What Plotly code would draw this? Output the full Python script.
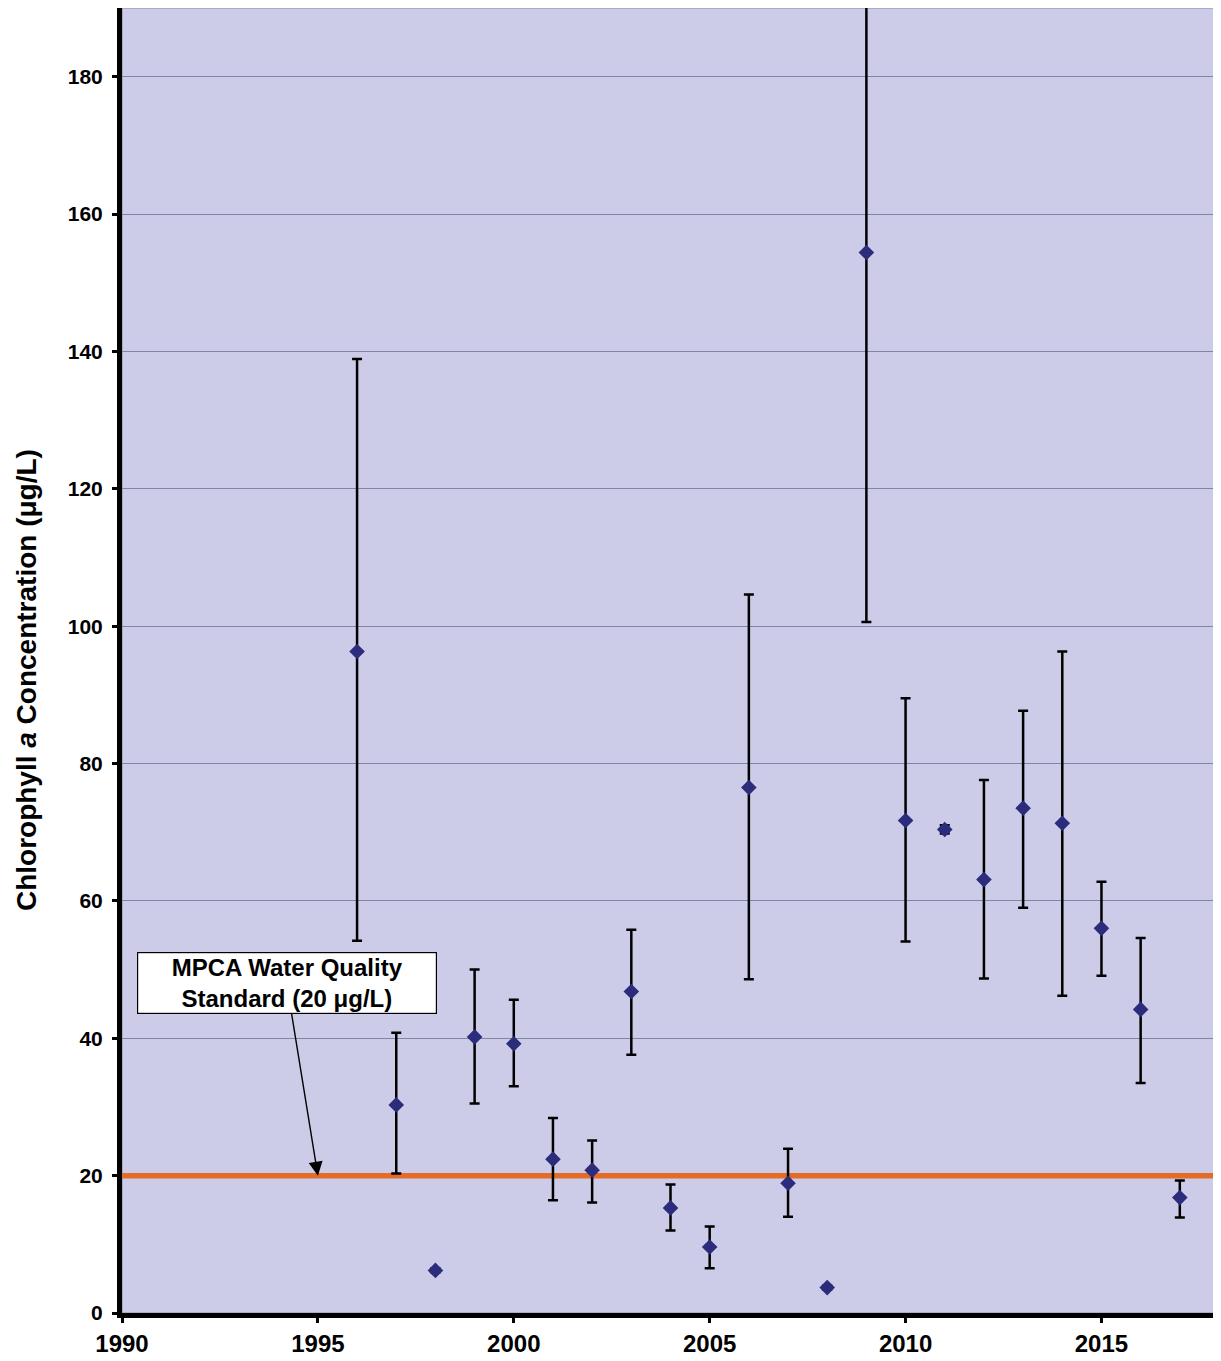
import plotly.graph_objects as go

# ---- data ----
years = [1996, 1997, 1998, 1999, 2000, 2001, 2002, 2003, 2004, 2005, 2006,
         2007, 2008, 2009, 2010, 2011, 2012, 2013, 2014, 2015, 2016, 2017]
chl_mean = [96.3, 30.3, 6.2, 40.2, 39.2, 22.4, 20.8, 46.8, 15.3, 9.6, 76.5,
            18.9, 3.7, 154.4, 71.7, 70.4, 63.1, 73.5, 71.3, 56.0, 44.2, 16.8]
chl_upper = [138.9, 40.8, 6.5, 50.0, 45.6, 28.4, 25.1, 55.8, 18.7, 12.6, 104.6,
             23.9, 4.0, 208.2, 89.5, 71.0, 77.6, 87.7, 96.3, 62.8, 54.6, 19.3]
chl_lower = [54.2, 20.3, 5.9, 30.5, 33.0, 16.4, 16.1, 37.6, 12.0, 6.5, 48.6,
             14.0, 3.4, 100.6, 54.1, 69.8, 48.7, 59.0, 46.2, 49.1, 33.5, 13.9]
standard_value = 20
x_range = [1990, 2018]
y_range = [0, 190]
x_ticks = [1990, 1995, 2000, 2005, 2010, 2015]
y_ticks = [0, 20, 40, 60, 80, 100, 120, 140, 160, 180]

err_plus = [u - m for u, m in zip(chl_upper, chl_mean)]
err_minus = [m - l for m, l in zip(chl_mean, chl_lower)]

fig = go.Figure()

# standard line
fig.add_trace(go.Scatter(
    x=x_range, y=[standard_value, standard_value], mode="lines",
    line=dict(color="#E46C26", width=5.5), hoverinfo="skip", showlegend=False,
))

fig.add_trace(go.Scatter(
    x=years, y=chl_mean, mode="markers",
    marker=dict(symbol="diamond", size=12, color="#2B2C7C"),
    error_y=dict(type="data", symmetric=False, array=err_plus, arrayminus=err_minus,
                 color="black", thickness=2.5, width=5),
    showlegend=False,
))

font_family = "Liberation Sans, Arial, sans-serif"

fig.update_layout(
    width=1213, height=1353,
    margin=dict(l=114, r=2, t=0, b=48),
    paper_bgcolor="white",
    plot_bgcolor="#CDCCE8",
    font=dict(family=font_family, color="black"),
    xaxis=dict(
        range=x_range, tickvals=x_ticks, showgrid=False, zeroline=False,
        showline=True, linecolor="black", linewidth=5,
        ticks="outside", ticklen=5, tickwidth=3, tickcolor="black",
        tickfont=dict(size=24, weight="bold", family=font_family),
    ),
    yaxis=dict(
        range=y_range, tickvals=y_ticks, showgrid=True, gridcolor="#8284A4", gridwidth=1,
        zeroline=False, showline=True, linecolor="black", linewidth=5,
        ticks="outside", ticklen=5, tickwidth=3, tickcolor="black",
        tickfont=dict(size=21, weight="bold", family=font_family),
        ticklabelstandoff=5,
    ),
    shapes=[dict(type="rect", xref="paper", yref="paper", x0=0, x1=1, y0=0, y1=1,
                 line=dict(color="#8A8AA8", width=1), layer="below")],
    annotations=[
        dict(
            x=1995, y=standard_value, xref="x", yref="y",
            ax=1994.2, ay=48.1, axref="x", ayref="y",
            text="<b>MPCA Water Quality<br>Standard (20 μg/L)</b>",
            font=dict(size=24, family=font_family, color="black"),
            showarrow=True, arrowhead=2, arrowsize=2, arrowwidth=1.4, arrowcolor="black",
            bgcolor="white", bordercolor="black", borderwidth=1.2, borderpad=1,
            width=296, height=58,
        ),
        dict(
            x=0, y=0.485, xref="paper", yref="paper", xanchor="center", yanchor="middle",
            xshift=-96, showarrow=False, textangle=-90,
            text="<b>Chlorophyll <i>a</i> Concentration (μg/L)</b>",
            font=dict(size=28, family=font_family, color="black"),
        ),
    ],
)

fig.write_html("out.html")
